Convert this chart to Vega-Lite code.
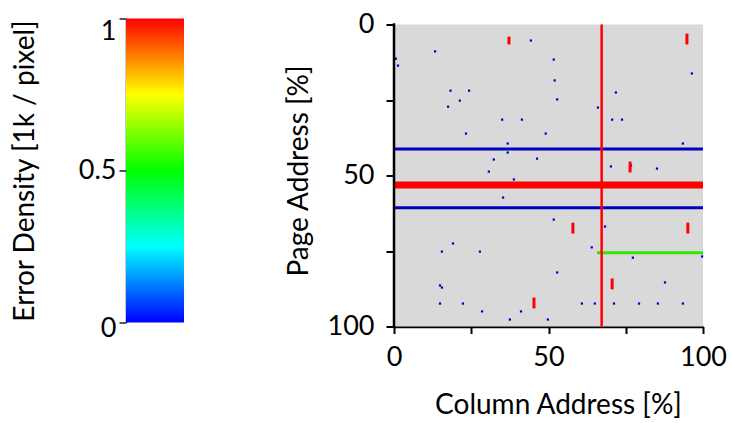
{
  "$schema": "https://vega.github.io/schema/vega-lite/v6.json",
  "padding": {"left": 11, "top": 10.5, "right": 5, "bottom": 5},
  "spacing": 101,
  "datasets": {
    "array": [{"col": 0, "col2": 100, "page": 0, "page2": 100}],
    "cells": [
      {"col": 0.6, "page": 11.3}, {"col": 1.3, "page": 13.6}, {"col": 13.3, "page": 8.9}, {"col": 44.3, "page": 5.3},
      {"col": 51.7, "page": 11.6}, {"col": 52.0, "page": 18.5}, {"col": 52.8, "page": 24.8}, {"col": 18.3, "page": 21.9},
      {"col": 24.3, "page": 21.9}, {"col": 21.3, "page": 25.2}, {"col": 17.5, "page": 27.2}, {"col": 23.3, "page": 36.1},
      {"col": 35.0, "page": 31.5}, {"col": 41.4, "page": 31.5}, {"col": 49.1, "page": 36.1}, {"col": 36.8, "page": 39.4},
      {"col": 36.8, "page": 42.4}, {"col": 32.3, "page": 44.7}, {"col": 46.3, "page": 44.4}, {"col": 66.0, "page": 27.5},
      {"col": 71.8, "page": 22.5}, {"col": 70.6, "page": 31.5}, {"col": 73.8, "page": 31.5}, {"col": 96.4, "page": 16.2},
      {"col": 93.5, "page": 39.4}, {"col": 70.2, "page": 47.0}, {"col": 76.7, "page": 46.7}, {"col": 85.1, "page": 47.7},
      {"col": 30.7, "page": 48.7}, {"col": 38.8, "page": 51.3}, {"col": 35.3, "page": 57.3}, {"col": 51.7, "page": 64.6},
      {"col": 68.3, "page": 66.9}, {"col": 19.1, "page": 72.5}, {"col": 15.5, "page": 75.2}, {"col": 27.8, "page": 75.2},
      {"col": 64.0, "page": 73.8}, {"col": 77.3, "page": 77.2}, {"col": 99.7, "page": 76.8}, {"col": 52.8, "page": 82.1},
      {"col": 14.9, "page": 86.4}, {"col": 15.5, "page": 87.1}, {"col": 87.7, "page": 85.4}, {"col": 14.9, "page": 92.4},
      {"col": 22.3, "page": 92.4}, {"col": 60.8, "page": 92.4}, {"col": 65.0, "page": 92.4}, {"col": 71.2, "page": 92.4},
      {"col": 79.3, "page": 92.4}, {"col": 85.4, "page": 92.4}, {"col": 93.5, "page": 92.4}, {"col": 28.5, "page": 95.0},
      {"col": 41.1, "page": 95.0}, {"col": 37.5, "page": 97.7}, {"col": 49.8, "page": 97.7}
    ],
    "segments": [
      {"kind": "row", "level": "low", "col": 0, "col2": 100, "page": 41.2},
      {"kind": "row", "level": "high", "col": 0, "col2": 100, "page": 53.1},
      {"kind": "row", "level": "low", "col": 0, "col2": 100, "page": 60.7},
      {"kind": "row", "level": "mid", "col": 65.7, "col2": 100, "page": 75.6},
      {"kind": "column", "level": "high", "col": 67.2, "page": 0, "page2": 100},
      {"kind": "burst", "level": "high", "col": 37.2, "page": 4.0, "page2": 6.6},
      {"kind": "burst", "level": "high", "col": 94.8, "page": 3.0, "page2": 6.6},
      {"kind": "burst", "level": "high", "col": 76.4, "page": 45.4, "page2": 49.0},
      {"kind": "burst", "level": "high", "col": 57.9, "page": 65.6, "page2": 69.2},
      {"kind": "burst", "level": "high", "col": 95.1, "page": 65.6, "page2": 69.2},
      {"kind": "burst", "level": "high", "col": 70.6, "page": 84.1, "page2": 87.7},
      {"kind": "burst", "level": "high", "col": 45.3, "page": 90.4, "page2": 94.0}
    ],
    "bar": [{"lo": 0, "hi": 1}]
  },
  "hconcat": [
    {
      "width": 58,
      "height": 304,
      "data": {"name": "bar"},
      "mark": {
        "type": "rect",
        "fill": {
          "gradient": "linear", "x1": 0, "y1": 1, "x2": 0, "y2": 0,
          "stops": [
            {"offset": 0, "color": "#0000ff"},
            {"offset": 0.25, "color": "#00ffff"},
            {"offset": 0.5, "color": "#00ff00"},
            {"offset": 0.75, "color": "#ffff00"},
            {"offset": 1, "color": "#ff0000"}
          ]
        }
      },
      "encoding": {
        "y": {
          "field": "lo", "type": "quantitative",
          "scale": {"domain": [0, 1], "nice": false},
          "axis": {
            "title": "Error Density [1k / pixel]",
            "values": [0, 0.5, 1],
            "format": "~g",
            "grid": false,
            "labelFlush": false,
            "tickSize": 7,
            "labelPadding": 3,
            "titlePadding": 39,
            "domainWidth": 1.5,
            "tickWidth": 1.5,
            "domainColor": "#222",
            "tickColor": "#222",
            "labelBaseline": {"condition": {"test": "datum.value == 1", "value": "top"}, "value": "middle"},
            "labelOffset": {"condition": {"test": "datum.value == 0", "value": 6}, "value": 0}
          }
        },
        "y2": {"field": "hi"}
      }
    },
    {
      "width": 309,
      "height": 308,
      "encoding": {
        "x": {
          "field": "col", "type": "quantitative",
          "scale": {"domain": [0, 100], "nice": false},
          "axis": {
            "title": "Column Address [%]",
            "values": [0, 25, 50, 75, 100],
            "labelExpr": "datum.value % 50 === 0 ? datum.label : ''",
            "labelFlush": false,
            "grid": false,
            "tickSize": 7,
            "labelPadding": 11,
            "titlePadding": 21,
            "titleX": 164,
            "domainWidth": 2.5,
            "tickWidth": 2
          }
        },
        "y": {
          "field": "page", "type": "quantitative",
          "scale": {"domain": [-2, 100], "nice": false, "zero": false, "reverse": true},
          "axis": {
            "title": "Page Address [%]",
            "values": [0, 25, 50, 75, 100],
            "labelExpr": "datum.value % 50 === 0 ? datum.label : ''",
            "labelFlush": false,
            "grid": false,
            "domain": false,
            "tickSize": 8,
            "labelPadding": 12,
            "titlePadding": 14,
            "titleY": 152,
            "tickWidth": 2
          }
        }
      },
      "layer": [
        {
          "data": {"name": "array"},
          "mark": {"type": "rect", "fill": "#d9d9d9"},
          "encoding": {"x2": {"field": "col2"}, "y2": {"field": "page2"}}
        },
        {
          "data": {"name": "cells"},
          "mark": {"type": "square", "size": 5, "color": "#0000cc", "opacity": 1}
        },
        {
          "data": {"name": "segments"},
          "transform": [{"filter": "datum.kind == 'row' && datum.level == 'high'"}],
          "mark": {"type": "rule", "strokeWidth": 7, "strokeCap": "butt"},
          "encoding": {
            "x2": {"field": "col2"},
            "color": {"field": "level", "type": "nominal", "legend": null,
              "scale": {"domain": ["low", "mid", "high"], "range": ["#0000c0", "#33e600", "#ff0000"]}}
          }
        },
        {
          "data": {"name": "segments"},
          "transform": [{"filter": "datum.kind == 'row' && datum.level != 'high'"}],
          "mark": {"type": "rule", "strokeWidth": 3, "strokeCap": "butt"},
          "encoding": {
            "x2": {"field": "col2"},
            "color": {"field": "level", "type": "nominal", "legend": null}
          }
        },
        {
          "data": {"name": "segments"},
          "transform": [{"filter": "datum.kind == 'column'"}],
          "mark": {"type": "rule", "strokeWidth": 2.5, "strokeCap": "butt"},
          "encoding": {
            "y2": {"field": "page2"},
            "color": {"field": "level", "type": "nominal", "legend": null}
          }
        },
        {
          "data": {"name": "segments"},
          "transform": [{"filter": "datum.kind == 'burst'"}],
          "mark": {"type": "rule", "strokeWidth": 3, "strokeCap": "butt"},
          "encoding": {
            "y2": {"field": "page2"},
            "color": {"field": "level", "type": "nominal", "legend": null}
          }
        },
        {
          "data": {"name": "array"},
          "mark": {"type": "rule", "color": "#000", "strokeWidth": 2.5, "strokeCap": "square"},
          "encoding": {"y2": {"field": "page2"}}
        }
      ]
    }
  ],
  "config": {
    "view": {"stroke": null},
    "axis": {
      "labelFont": "Lato",
      "titleFont": "Lato",
      "labelFontSize": 27,
      "titleFontSize": 28,
      "titleFontWeight": "normal",
      "labelColor": "#000",
      "titleColor": "#000",
      "domainColor": "#000",
      "tickColor": "#000"
    }
  }
}
